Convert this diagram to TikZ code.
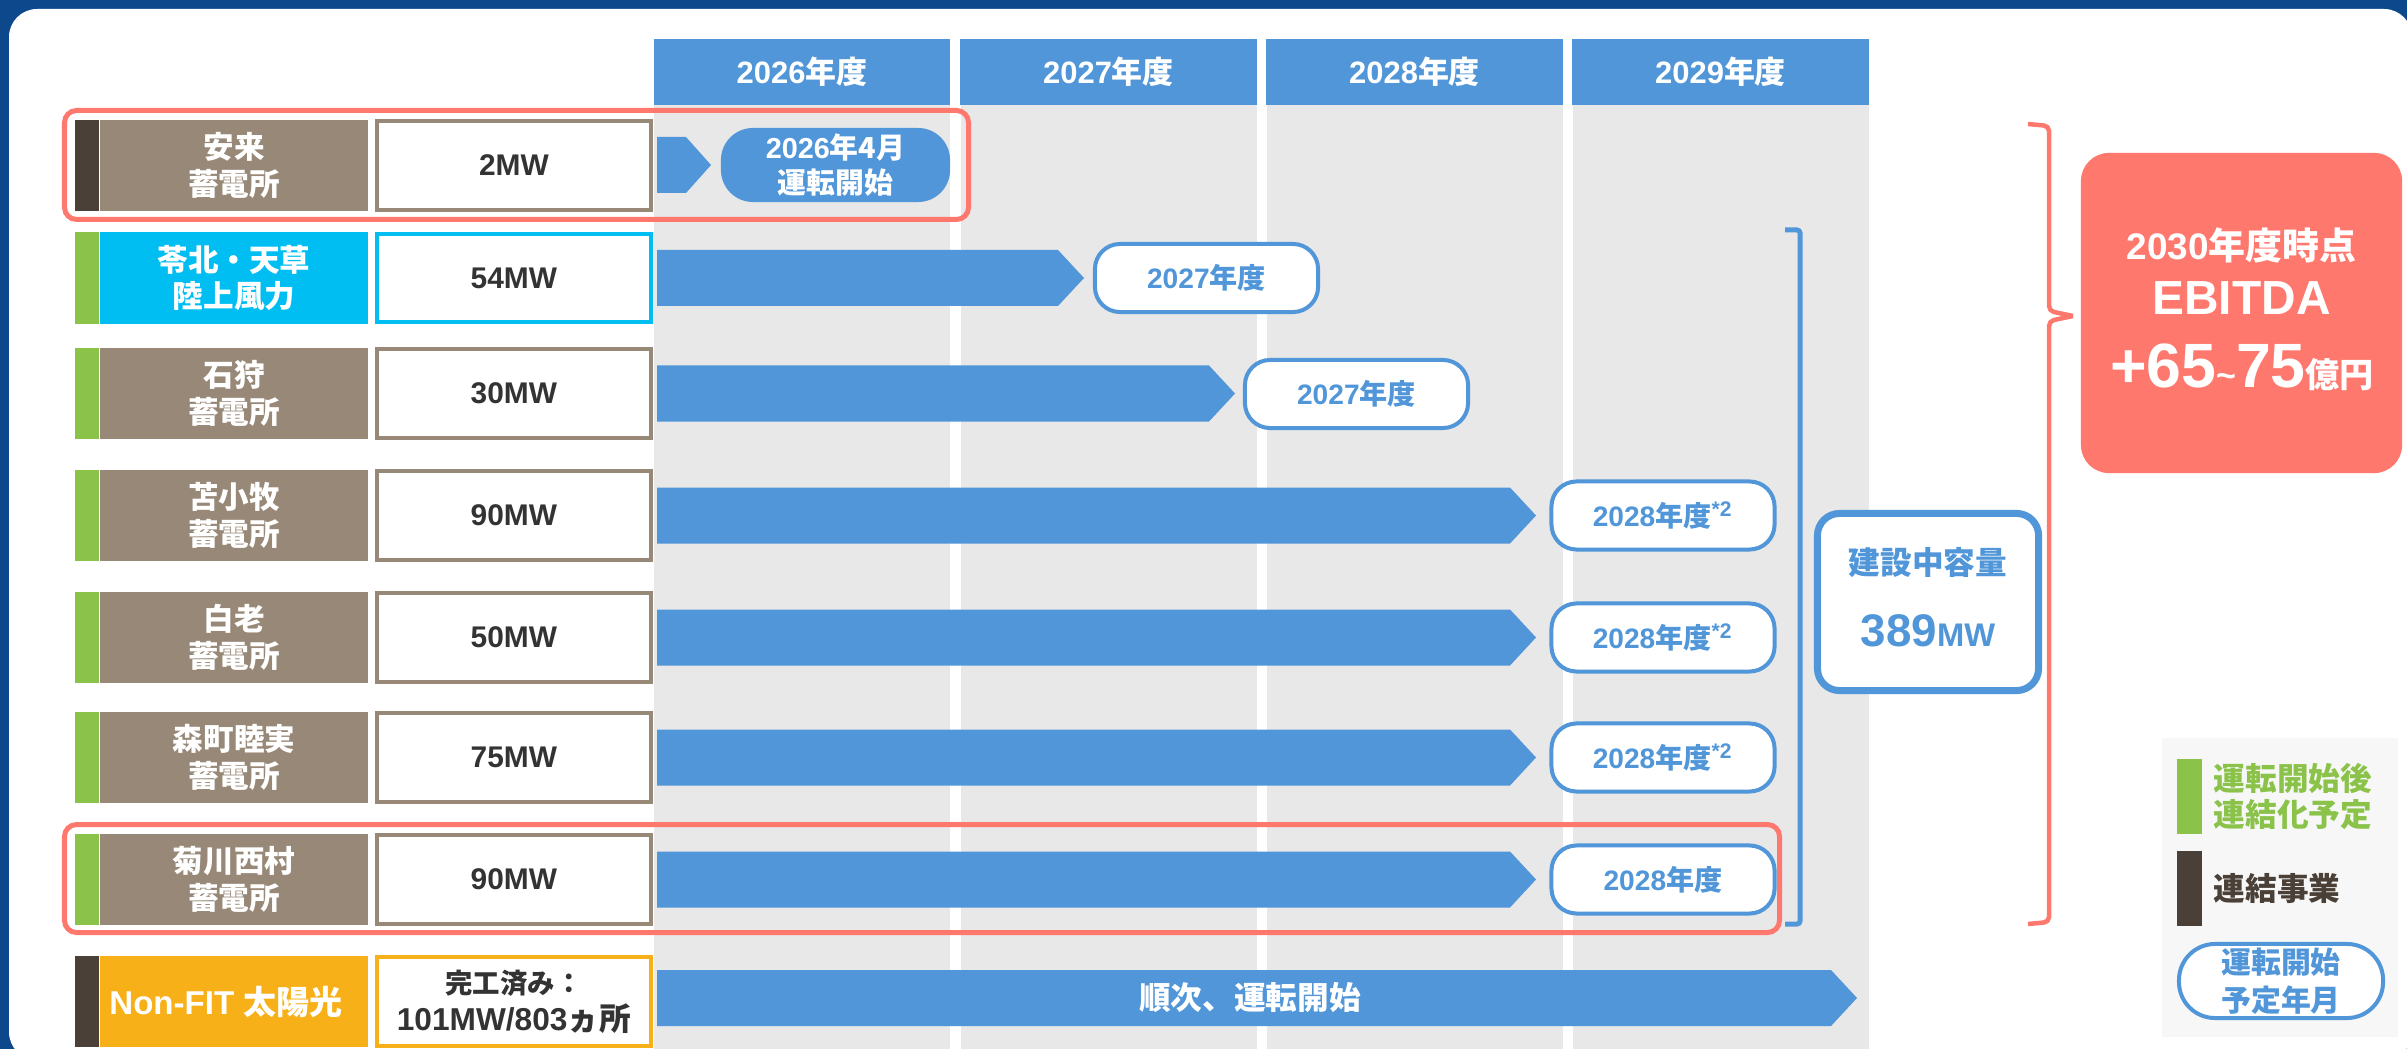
\documentclass[tikz,border=0pt]{standalone}
\usepackage{fontspec}
\setmainfont{Liberation Sans}
\newfontfamily\jpfont{Noto Sans CJK JP}
\newcommand\ja[1]{{\jpfont #1}}
\usetikzlibrary{positioning}
\definecolor{frameblue}{RGB}{13,71,140}
\definecolor{barblue}{RGB}{80,150,216}
\definecolor{colgray}{RGB}{232,232,232}
\definecolor{brownbox}{RGB}{151,136,119}
\definecolor{darkstripe}{RGB}{74,64,56}
\definecolor{leafgreen}{RGB}{139,195,74}
\definecolor{windcyan}{RGB}{0,190,242}
\definecolor{solarorange}{RGB}{248,176,25}
\definecolor{salmon}{RGB}{255,120,110}
\definecolor{legendgray}{RGB}{247,247,247}
\definecolor{valtext}{RGB}{51,51,51}

\begin{document}
\begin{tikzpicture}[
    x=0.01cm, y=-0.01cm,
    yearhead/.style={fill=barblue,text=white,minimum width=2.96cm,minimum height=0.66cm,inner sep=0pt,font=\fontsize{8.8pt}{10pt}\selectfont\bfseries},
    namebox/.style={minimum width=2.68cm,minimum height=0.91cm,inner sep=0pt,text=white,align=center,font=\fontsize{8.7pt}{10.5pt}\selectfont\bfseries\jpfont},
    stripe/.style={minimum width=0.24cm,minimum height=0.91cm,inner sep=0pt},
    valbox/.style={fill=white,line width=0.04cm,minimum width=2.74cm,minimum height=0.88cm,inner sep=0pt,text=valtext,align=center,font=\fontsize{8.5pt}{10.5pt}\selectfont\bfseries},
    pill/.style={draw=barblue,fill=white,line width=0.04cm,rounded corners=0.25cm,minimum width=2.23cm,minimum height=0.68cm,inner sep=0pt,text=barblue,font=\fontsize{8pt}{10pt}\selectfont\bfseries},
    hilite/.style={draw=salmon,line width=0.05cm,rounded corners=0.12cm},
    brace/.style={draw=salmon,line width=0.045cm,rounded corners=0.05cm},
    capbox/.style={draw=barblue,fill=white,line width=0.07cm,rounded corners=0.22cm,minimum width=2.21cm,minimum height=1.77cm},
    captext/.style={text=barblue,inner sep=0pt,font=\fontsize{9pt}{10pt}\selectfont\bfseries},
    ebitbox/.style={fill=salmon,rounded corners=0.28cm,minimum width=3.21cm,minimum height=3.2cm},
    ebittext/.style={text=white,inner sep=0pt},
    legtext/.style={inner sep=0pt,align=left,font=\fontsize{9pt}{10.5pt}\selectfont\bfseries\jpfont},
    node distance=0.06cm
]
    \useasboundingbox (0,0) rectangle (2407,1049);
    \fill[frameblue] (0,0) rectangle (2407,1049);
    \fill[white,rounded corners=0.28cm] (9,9) rectangle (2412,1060);

    % year columns
    \foreach \yr/\cx in {2026/802, 2027/1108.5, 2028/1414.5, 2029/1720.5} {
        \fill[colgray] (\cx-148,105) rectangle (\cx+148,1049);
        \node[yearhead] (h\yr) at (\cx,72) {\yr\ja{年度}};
    }

    % sites
    \node[namebox,fill=brownbox] (n1) at (234,165.5) {安来\\蓄電所};
    \node[stripe,fill=darkstripe,left=0pt of n1] (s1) {};
    \node[valbox,draw=brownbox,right=of n1] (v1) {2MW};

    \node[namebox,fill=windcyan] (n2) at (234,278) {苓北・天草\\陸上風力};
    \node[stripe,fill=leafgreen,left=0pt of n2] (s2) {};
    \node[valbox,draw=windcyan,right=of n2] (v2) {54MW};

    \foreach \i/\cy/\site/\mw in {3/393.5/石狩/30MW, 4/515.5/苫小牧/90MW, 5/637.5/白老/50MW, 6/757.5/森町睦実/75MW, 7/879.5/菊川西村/90MW} {
        \node[namebox,fill=brownbox] (n\i) at (234,\cy) {\site\\蓄電所};
        \node[stripe,fill=leafgreen,left=0pt of n\i] (s\i) {};
        \node[valbox,draw=brownbox,right=of n\i] (v\i) {\mw};
    }

    \node[namebox,fill=solarorange,font=\fontsize{9.4pt}{11pt}\selectfont\bfseries] (n8) at (234,1001.5) {Non-FIT \ja{太陽光}\hspace*{0.16cm}};
    \node[stripe,fill=darkstripe,left=0pt of n8] (s8) {};
    \node[valbox,draw=solarorange,right=of n8,font=\fontsize{9pt}{10.5pt}\selectfont\bfseries] (v8) {{\fontsize{7.8pt}{10.5pt}\selectfont\ja{完工済み：}}\\101MW/803\ja{ヵ所}};

    % bars
    \fill[barblue] (657,137) -- (686,137) -- (711,165) -- (686,193) -- (657,193) -- cycle;
    \foreach \cy/\nx in {278/1058, 393.5/1209, 515.5/1510, 637.5/1510, 757.5/1510, 879.5/1510, 998/1831}
        \fill[barblue] (657,\cy-28) -- (\nx,\cy-28) -- (\nx+26,\cy) -- (\nx,\cy+28) -- (657,\cy+28) -- cycle;
    \node[text=white,font=\fontsize{9pt}{10pt}\selectfont\bfseries\jpfont] (b8) at (1250,998) {順次、運転開始};

    % start dates
    \node[pill,fill=barblue,draw=none,text=white,minimum width=2.29cm,minimum height=0.74cm,rounded corners=0.32cm,align=center,font=\fontsize{8.2pt}{10pt}\selectfont\bfseries] (p1) at (835.5,165) {2026\ja{年4月}\\\ja{運転開始}};
    \node[pill] (p2) at (1206.5,278) {2027\ja{年度}};
    \node[pill] (p3) at (1356.5,394) {2027\ja{年度}};
    \foreach \i/\cy in {4/515.5, 5/637.5, 6/757.5}
        \node[pill] (p\i) at (1663,\cy) {2028\ja{年度}\textsuperscript{*2}};
    \node[pill] (p7) at (1663,879.5) {2028\ja{年度}};

    \draw[hilite] (64.5,110.5) rectangle (968.5,219.5);
    \draw[hilite] (64.5,824.5) rectangle (1779.5,932.5);

    % capacity under construction
    \draw[barblue,line width=0.05cm,rounded corners=0.03cm] (1785,230) -- (1800,230) -- (1800,924) -- (1785,924);
    \node[capbox] (cap) at (1928,602) {};
    \node[captext] (cap1) at (1928,563) {\ja{建設中容量}};
    \node[captext,font=\fontsize{9.3pt}{10pt}\selectfont\bfseries] (cap2) at (1928,631) {{\fontsize{13pt}{14pt}\selectfont 389}MW};

    % EBITDA
    \draw[brace] (2028,124) -- (2049,126) -- (2049,311) -- (2073,316);
    \draw[brace] (2073,316) -- (2049,321) -- (2049,922) -- (2028,924);
    \node[ebitbox] (ebit) at (2241.5,313) {};
    \node[ebittext,font=\fontsize{10.5pt}{12pt}\selectfont\bfseries] (e1) at (2241.5,245) {2030\ja{年度時点}};
    \node[ebittext,font=\fontsize{13.6pt}{15pt}\selectfont\bfseries] (e2) at (2241.5,298) {EBITDA};
    \node[ebittext,font=\fontsize{9.7pt}{11pt}\selectfont\bfseries] (e3) at (2242,367) {{\fontsize{17.8pt}{19pt}\selectfont +65}\textasciitilde{\fontsize{17.8pt}{19pt}\selectfont 75}\ja{億円}};

    % legend
    \fill[legendgray] (2162,738) rectangle (2398,1037);
    \fill[leafgreen] (2177,759) rectangle (2202,834);
    \node[legtext,text=leafgreen,anchor=west] (l1) at (2213,796.5) {運転開始後\\連結化予定};
    \fill[darkstripe] (2177,851) rectangle (2202,926);
    \node[legtext,text=darkstripe,anchor=west] (l2) at (2213,888) {連結事業};
    \node[pill,minimum width=2.04cm,minimum height=0.74cm,rounded corners=0.36cm,align=center,font=\fontsize{8.5pt}{10.8pt}\selectfont\bfseries\jpfont] (l3) at (2281,981) {運転開始\\予定年月};
\end{tikzpicture}
\end{document}
